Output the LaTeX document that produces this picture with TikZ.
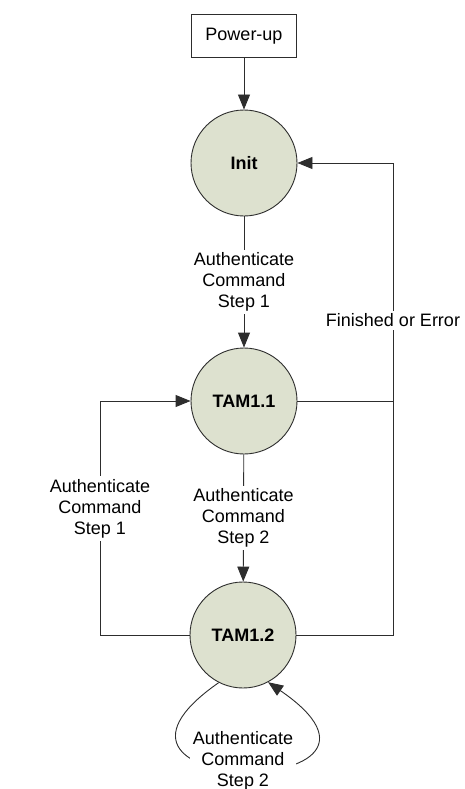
\documentclass[tikz,border=0pt]{standalone}
\usepackage{fontspec}
\setmainfont{Liberation Sans}
\usetikzlibrary{arrows.meta}
\definecolor{statefill}{RGB}{221,225,207}
\definecolor{linegray}{RGB}{45,45,45}
\begin{document}
\begin{tikzpicture}[x=1pt,y=-1pt,
  state/.style={circle,draw=linegray,fill=statefill,line width=0.9pt,minimum size=106pt,inner sep=0pt,font=\fontsize{18pt}{21pt}\selectfont\bfseries},
  startbox/.style={rectangle,draw=linegray,line width=0.9pt,minimum width=105pt,minimum height=43pt,inner sep=0pt,font=\fontsize{18pt}{21pt}\selectfont},
  lbl/.style={fill=white,align=center,inner sep=3pt,font=\fontsize{18pt}{21pt}\selectfont},
  conn/.style={draw=linegray,line width=0.9pt},
  arr/.style={conn,-{Triangle[length=15pt,width=12pt]}}]
\useasboundingbox (0,0) rectangle (464,789);
\node[startbox] (pw) at (244,36) {Power-up};
\node[state] (init) at (244,163) {Init};
\node[state] (t1) at (244,401) {TAM1.1};
\node[state] (t2) at (243,635) {TAM1.2};
\coordinate (lb) at (100,635);
\coordinate (lt) at (100,401);
\coordinate (rb) at (393,635);
\coordinate (rm) at (393,401);
\coordinate (rt) at (393,163);
\draw[arr] (pw) -- (init);
\draw[arr] (init) -- node[lbl]{Authenticate\\Command\\Step 1} (t1);
\draw[arr] (t1) -- node[lbl]{Authenticate\\Command\\Step 2} (t2);
\draw[arr] (t2.west) -- (lb) -- node[lbl,pos=0.54]{Authenticate\\Command\\Step 1} (lt) -- (t1.west);
\draw[arr] (t2.east) -- (rb) -- node[lbl,pos=0.667]{Finished or Error} (rt) -- (init.east);
\draw[conn] (t1.east) -- (rm);
\draw[arr] (t2.-117) .. controls (50,800) and (440,800) .. (t2.-62);
\node[lbl] (loopl) at (243,761) {Authenticate\\Command\\Step 2};
\end{tikzpicture}
\end{document}
